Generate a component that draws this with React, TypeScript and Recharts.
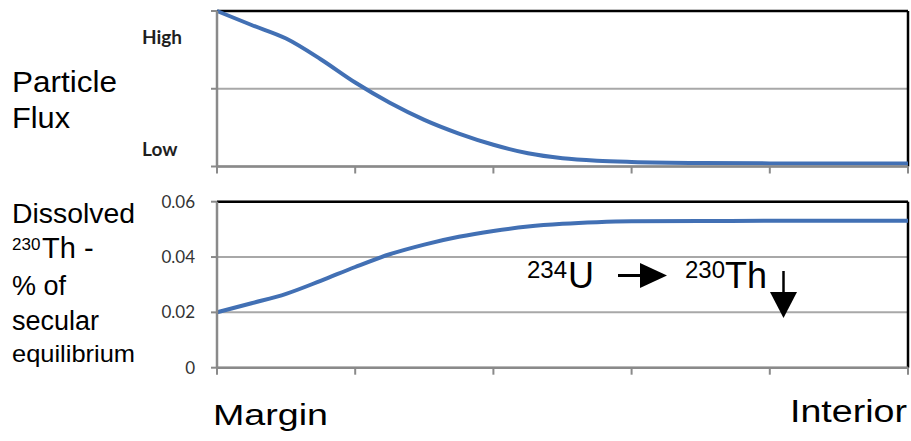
import React from "react";
import { LineChart, Line, XAxis, YAxis, CartesianGrid, ReferenceLine } from "recharts";

// distance from the margin (arbitrary units, 5 intervals across)
const positions = [0, 0.25, 0.5, 0.75, 1, 1.25, 1.5, 1.75, 2, 2.25, 2.5, 2.75, 3, 3.5, 4, 4.5, 5];
const particleFlux = [1.0, 0.91, 0.823, 0.69, 0.54, 0.41, 0.3, 0.212, 0.14, 0.085, 0.053, 0.037, 0.029, 0.022, 0.02, 0.019, 0.019];
const dissolvedTh = [0.02, 0.0233, 0.0267, 0.0314, 0.0364, 0.041, 0.0445, 0.0473, 0.0494, 0.051, 0.052, 0.0526, 0.0529, 0.053, 0.0531, 0.0531, 0.0531];

const xTicks = [0, 1, 2, 3, 4, 5];
const fluxTicks = [0, 0.5, 1];
const fluxTickLabels: Record<string, string> = { "1": "High", "0": "Low" };
const thTicks = [0, 0.02, 0.04, 0.06];

const fluxData = positions.map((x, i) => ({ x, v: particleFlux[i] }));
const thData = positions.map((x, i) => ({ x, v: dissolvedTh[i] }));

const AXIS = "#8a8a8a";
const GRID = "#a8a8a8";
const BLUE = "#4270b4";
const SANS = "'Liberation Sans', Arial, sans-serif";
const axisLine = { stroke: AXIS, strokeWidth: 2.5 };
const tickLine = { stroke: AXIS, strokeWidth: 2 };

const NoTick = () => <g />;

const FluxTick = (props: any) => {
  const { x, y, payload } = props;
  const label = fluxTickLabels[String(payload.value)];
  if (!label) return <g />;
  const dy = payload.value === 1 ? 33 : -10.5;
  return (
    <text
      x={x - 67}
      y={y + dy}
      fontFamily="Lato, sans-serif"
      fontWeight={700}
      fontSize={19}
      fill="#1f1f1f"
      textAnchor="start"
    >
      {label}
    </text>
  );
};

const ThTick = (props: any) => {
  const { x, y, payload } = props;
  return (
    <text x={x} y={y} dy={6} fontFamily="Lato, sans-serif" fontSize={17} fill="#333" textAnchor="end">
      {payload.value === 0 ? "0" : payload.value.toFixed(2)}
    </text>
  );
};

export default function App() {
  return (
    <div style={{ position: "absolute", left: 0, top: 0, width: 911, height: 441, background: "#fff" }}>
      <div style={{ position: "absolute", left: 0, top: 0 }}>
        <LineChart width={911} height={180} data={fluxData} margin={{ top: 11, right: 3, bottom: 0, left: 0 }}>
          <CartesianGrid horizontal vertical={false} stroke={GRID} strokeWidth={2} />
          <XAxis
            dataKey="x"
            type="number"
            domain={[0, 5]}
            ticks={xTicks}
            height={13.5}
            tick={<NoTick />}
            tickSize={7}
            axisLine={axisLine}
            tickLine={tickLine}
          />
          <YAxis
            type="number"
            domain={[0, 1]}
            ticks={fluxTicks}
            width={217}
            tickSize={6}
            tick={<FluxTick />}
            axisLine={axisLine}
            tickLine={tickLine}
          />
          <ReferenceLine y={1} stroke="#000" strokeWidth={2.5} />
          <ReferenceLine x={5} stroke="#000" strokeWidth={2.5} />
          <Line type="monotone" dataKey="v" stroke={BLUE} strokeWidth={4} dot={false} isAnimationActive={false} />
        </LineChart>
      </div>
      <div style={{ position: "absolute", left: 0, top: 190 }}>
        <LineChart width={911} height={190} data={thData} margin={{ top: 11.7, right: 3, bottom: 0, left: 0 }}>
          <CartesianGrid horizontal vertical={false} stroke={GRID} strokeWidth={2} />
          <XAxis
            dataKey="x"
            type="number"
            domain={[0, 5]}
            ticks={xTicks}
            height={12.3}
            tick={<NoTick />}
            tickSize={7}
            axisLine={axisLine}
            tickLine={tickLine}
          />
          <YAxis
            type="number"
            domain={[0, 0.06]}
            ticks={thTicks}
            width={217}
            tickSize={6}
            tickMargin={16}
            tick={<ThTick />}
            axisLine={axisLine}
            tickLine={tickLine}
          />
          <ReferenceLine y={0.06} stroke="#000" strokeWidth={2.5} />
          <ReferenceLine x={5} stroke="#000" strokeWidth={2.5} />
          <Line type="monotone" dataKey="v" stroke={BLUE} strokeWidth={4} dot={false} isAnimationActive={false} />
        </LineChart>
      </div>
      <svg
        width={911}
        height={441}
        style={{ position: "absolute", left: 0, top: 0, pointerEvents: "none" }}
        fontFamily={SANS}
        fill="#000"
      >
        <text x={12} y={92} fontSize={29} textLength={105} lengthAdjust="spacingAndGlyphs">Particle</text>
        <text x={12} y={128} fontSize={29} textLength={58} lengthAdjust="spacingAndGlyphs">Flux</text>

        <text x={12} y={223} fontSize={27} textLength={123} lengthAdjust="spacingAndGlyphs">Dissolved</text>
        <text x={12} y={250} fontSize={17}>230</text>
        <text x={42} y={258} fontSize={29}>Th -</text>
        <text x={12} y={295} fontSize={27}>% of</text>
        <text x={12} y={330} fontSize={27}>secular</text>
        <text x={12} y={362} fontSize={24} textLength={123} lengthAdjust="spacingAndGlyphs">equilibrium</text>

        <text x={213} y={425} fontSize={30} textLength={115} lengthAdjust="spacingAndGlyphs">Margin</text>
        <text x={790} y={422} fontSize={31} textLength={117} lengthAdjust="spacingAndGlyphs">Interior</text>

        <text x={527} y={278} fontSize={24}>234</text>
        <text x={568} y={288} fontSize={36}>U</text>
        <line x1={618} y1={275.5} x2={642} y2={275.5} stroke="#000" strokeWidth={3} />
        <polygon points="640,263 667,275.5 640,288" fill="#000" />
        <text x={685} y={278} fontSize={24}>230</text>
        <text x={725} y={288} fontSize={36}>Th</text>
        <line x1={783.5} y1={271} x2={783.5} y2={294} stroke="#000" strokeWidth={2.5} />
        <polygon points="770,292 797,292 783.5,318" fill="#000" />
      </svg>
    </div>
  );
}
